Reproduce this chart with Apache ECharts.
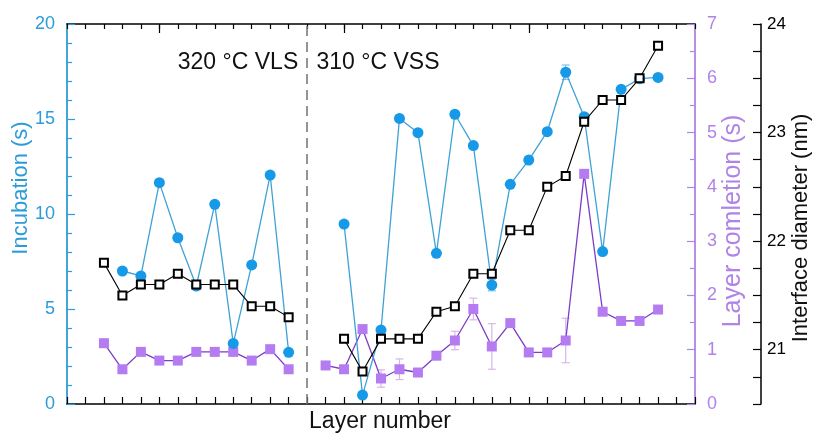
<!DOCTYPE html>
<html>
<head>
<meta charset="utf-8">
<script src="https://cdn.jsdelivr.net/npm/echarts@6/dist/echarts.min.js"></script>
<style>
html,body{margin:0;padding:0;background:#fff;}
#chart{width:818px;height:434px;}
</style>
</head>
<body>
<div id="chart"></div>
<script>
// Layer positions (x index along "Layer number")
const diamLayersVLS = [1, 2, 3, 4, 5, 6, 7, 8, 9, 10, 11];
const diamVLS = [21.8, 21.5, 21.6, 21.6, 21.7, 21.6, 21.6, 21.6, 21.4, 21.4, 21.3];
const diamLayersVSS = [14, 15, 16, 17, 18, 19, 20, 21, 22, 23, 24, 25, 26, 27, 28, 29, 30, 31];
const diamVSS = [21.1, 20.8, 21.1, 21.1, 21.1, 21.35, 21.4, 21.7, 21.7, 22.1, 22.1, 22.5, 22.6, 23.1, 23.3, 23.3, 23.5, 23.8];

const incLayersVLS = [2, 3, 4, 5, 6, 7, 8, 9, 10, 11];
const incVLS = [7.0, 6.74, 11.65, 8.75, 6.21, 10.51, 3.19, 7.32, 12.05, 2.72];
const incLayersVSS = [14, 15, 16, 17, 18, 19, 20, 21, 22, 23, 24, 25, 26, 27, 28, 29, 30, 31];
const incVSS = [9.47, 0.47, 3.89, 15.03, 14.28, 7.93, 15.25, 13.6, 6.26, 11.56, 12.84, 14.33, 17.46, 15.12, 8.02, 16.56, 17.12, 17.19];
const incErrVSS = [0, 0, 0, 0, 0, 0, 0, 0, 0.3, 0, 0, 0, 0.38, 0, 0, 0, 0, 0];

const compLayersVLS = [1, 2, 3, 4, 5, 6, 7, 8, 9, 10, 11];
const compVLS = [1.12, 0.64, 0.96, 0.80, 0.80, 0.96, 0.96, 0.96, 0.80, 1.01, 0.64];
const compLayersVSS = [13, 14, 15, 16, 17, 18, 19, 20, 21, 22, 23, 24, 25, 26, 27, 28, 29, 30, 31];
const compVSS = [0.71, 0.64, 1.38, 0.47, 0.64, 0.58, 0.89, 1.17, 1.75, 1.06, 1.49, 0.95, 0.95, 1.17, 4.24, 1.70, 1.53, 1.53, 1.74];
const compErrVSS = [0.05, 0, 0, 0.16, 0.19, 0, 0, 0.17, 0.2, 0.42, 0, 0, 0, 0.41, 0, 0, 0, 0, 0];

const regionBoundary = 12;
const regionLabels = ['320 \u00B0C VLS', '310 \u00B0C VSS'];
const majorTopTicks = [4, 14, 24];
const diamTickLabels = [21, 22, 23, 24];

const BLUE = '#1699e6', BLUE_LINE = '#3ea2d6', BLUE_AX = '#2b9cd9';
const PURP = '#b47cf0', PURP_LINE = '#7c3cc6', PURP_AX = '#b083e6', PURP_ERR = '#d6b6ef';
const FONT = '"Liberation Sans", Arial, sans-serif';

const pairs = (xs, ys) => xs.map((x, i) => [x, ys[i]]);

function errorSeries(xs, ys, errs, yAxisIndex, color, z) {
  const data = [];
  xs.forEach((x, i) => { if (errs[i] > 0) data.push([x, ys[i] - errs[i], ys[i] + errs[i]]); });
  return {
    type: 'custom', xAxisIndex: 0, yAxisIndex: yAxisIndex, z: z, silent: true,
    data: data,
    encode: { x: 0, y: [1, 2] },
    renderItem: function (params, api) {
      const x = api.value(0);
      const lo = api.coord([x, api.value(1)]);
      const hi = api.coord([x, api.value(2)]);
      const w = 4;
      const st = { stroke: color, lineWidth: 1.2 };
      return {
        type: 'group', children: [
          { type: 'line', shape: { x1: lo[0], y1: lo[1], x2: hi[0], y2: hi[1] }, style: st },
          { type: 'line', shape: { x1: lo[0] - w, y1: lo[1], x2: lo[0] + w, y2: lo[1] }, style: st },
          { type: 'line', shape: { x1: hi[0] - w, y1: hi[1], x2: hi[0] + w, y2: hi[1] }, style: st }
        ]
      };
    }
  };
}

function lineSeries(data, yAxisIndex, opts) {
  return Object.assign({
    type: 'line', xAxisIndex: 0, yAxisIndex: yAxisIndex, data: data,
    animation: false, silent: true
  }, opts);
}

const chart = echarts.init(document.getElementById('chart'), null, { renderer: 'canvas' });

const xBase = { type: 'value', min: -1, max: 33, interval: 1, splitLine: { show: false }, axisLabel: { show: false } };

const option = {
  animation: false,
  backgroundColor: '#fff',
  textStyle: { fontFamily: FONT },
  grid: { left: 67, right: 123, top: 24, bottom: 30, containLabel: false },
  xAxis: [
    Object.assign({}, xBase, {
      position: 'bottom',
      axisLine: { show: true, onZero: false, lineStyle: { color: '#000', width: 1.5 } },
      axisTick: { show: true, inside: true, length: 7, lineStyle: { color: '#000', width: 1.2 } }
    }),
    Object.assign({}, xBase, {
      position: 'top',
      axisLine: { show: true, onZero: false, lineStyle: { color: '#000', width: 1.5 } },
      axisTick: { show: true, inside: true, length: 5, lineStyle: { color: '#000', width: 1.2 } }
    }),
    Object.assign({}, xBase, {
      position: 'top',
      axisLine: { show: false, onZero: false },
      axisTick: { show: true, inside: true, length: 9, customValues: majorTopTicks, lineStyle: { color: '#000', width: 1.2 } }
    })
  ],
  yAxis: [
    {
      type: 'value', position: 'left', min: 0, max: 20, interval: 5,
      splitLine: { show: false },
      axisLine: { show: true, onZero: false, lineStyle: { color: BLUE_AX, width: 1.8 } },
      axisTick: { show: true, inside: true, length: 8, lineStyle: { color: BLUE_AX, width: 1.2 } },
      minorTick: { show: true, splitNumber: 5, length: 5, lineStyle: { color: BLUE_AX, width: 1.2 } },
      axisLabel: { color: BLUE_AX, fontSize: 18, margin: 12, fontFamily: FONT }
    },
    {
      type: 'value', position: 'right', min: 0, max: 7, interval: 1,
      splitLine: { show: false },
      axisLine: { show: true, onZero: false, lineStyle: { color: PURP_AX, width: 1.8 } },
      axisTick: { show: true, inside: true, length: 8, lineStyle: { color: PURP_AX, width: 1.2 } },
      minorTick: { show: true, splitNumber: 2, length: 5, lineStyle: { color: PURP_AX, width: 1.2 } },
      axisLabel: { color: PURP_AX, fontSize: 18, margin: 12, fontFamily: FONT }
    },
    {
      type: 'value', position: 'right', offset: 66, min: 20.5, max: 24, interval: 0.25,
      splitLine: { show: false },
      axisLine: { show: true, onZero: false, lineStyle: { color: '#000', width: 1.5 } },
      axisTick: { show: true, inside: true, length: 8, lineStyle: { color: '#000', width: 1.2 } },
      axisLabel: {
        color: '#000', fontSize: 17, margin: 6, fontFamily: FONT,
        formatter: function (v) { return diamTickLabels.indexOf(v) >= 0 ? String(v) : ''; }
      }
    }
  ],
  series: [
    errorSeries(compLayersVSS, compVSS, compErrVSS, 1, PURP_ERR, 1),
    lineSeries(pairs(compLayersVLS, compVLS), 1, {
      z: 2, symbol: 'rect', symbolSize: 10,
      itemStyle: { color: PURP }, lineStyle: { color: PURP_LINE, width: 1.3 },
      markLine: {
        silent: true, symbol: 'none', label: { show: false },
        lineStyle: { color: '#7a7a7a', type: [10, 6], width: 1.6 },
        data: [{ xAxis: regionBoundary }]
      }
    }),
    lineSeries(pairs(compLayersVSS, compVSS), 1, {
      z: 2, symbol: 'rect', symbolSize: 10,
      itemStyle: { color: PURP }, lineStyle: { color: PURP_LINE, width: 1.3 }
    }),
    errorSeries(incLayersVSS, incVSS, incErrVSS, 0, '#7cc3ec', 3),
    lineSeries(pairs(incLayersVLS, incVLS), 0, {
      z: 4, symbol: 'circle', symbolSize: 11,
      itemStyle: { color: BLUE }, lineStyle: { color: BLUE_LINE, width: 1.3 }
    }),
    lineSeries(pairs(incLayersVSS, incVSS), 0, {
      z: 4, symbol: 'circle', symbolSize: 11,
      itemStyle: { color: BLUE }, lineStyle: { color: BLUE_LINE, width: 1.3 }
    }),
    lineSeries(pairs(diamLayersVLS, diamVLS), 2, {
      z: 5, symbol: 'rect', symbolSize: 8,
      itemStyle: { color: '#fff', borderColor: '#000', borderWidth: 2 }, lineStyle: { color: '#000', width: 1.1 }
    }),
    lineSeries(pairs(diamLayersVSS, diamVSS), 2, {
      z: 5, symbol: 'rect', symbolSize: 8,
      itemStyle: { color: '#fff', borderColor: '#000', borderWidth: 2 }, lineStyle: { color: '#000', width: 1.1 }
    })
  ],
  graphic: [
    { type: 'text', x: 238, y: 63, style: { text: regionLabels[0], font: '23px ' + FONT, fill: '#111', align: 'center', verticalAlign: 'middle' } },
    { type: 'text', x: 378, y: 63, style: { text: regionLabels[1], font: '23px ' + FONT, fill: '#111', align: 'center', verticalAlign: 'middle' } },
    { type: 'text', x: 380, y: 422, style: { text: 'Layer number', font: '23px ' + FONT, fill: '#111', align: 'center', verticalAlign: 'middle' } },
    { type: 'text', x: 21, y: 188, rotation: Math.PI / 2, style: { text: 'Incubation (s)', font: '22px ' + FONT, fill: BLUE_AX, align: 'center', verticalAlign: 'middle' } },
    { type: 'text', x: 733, y: 221, rotation: Math.PI / 2, style: { text: 'Layer comletion (s)', font: '25px ' + FONT, fill: PURP_AX, align: 'center', verticalAlign: 'middle' } },
    { type: 'text', x: 801, y: 228, rotation: Math.PI / 2, style: { text: 'Interface diameter (nm)', font: '22px ' + FONT, fill: '#111', align: 'center', verticalAlign: 'middle' } }
  ]
};

chart.setOption(option);
</script>
</body>
</html>
